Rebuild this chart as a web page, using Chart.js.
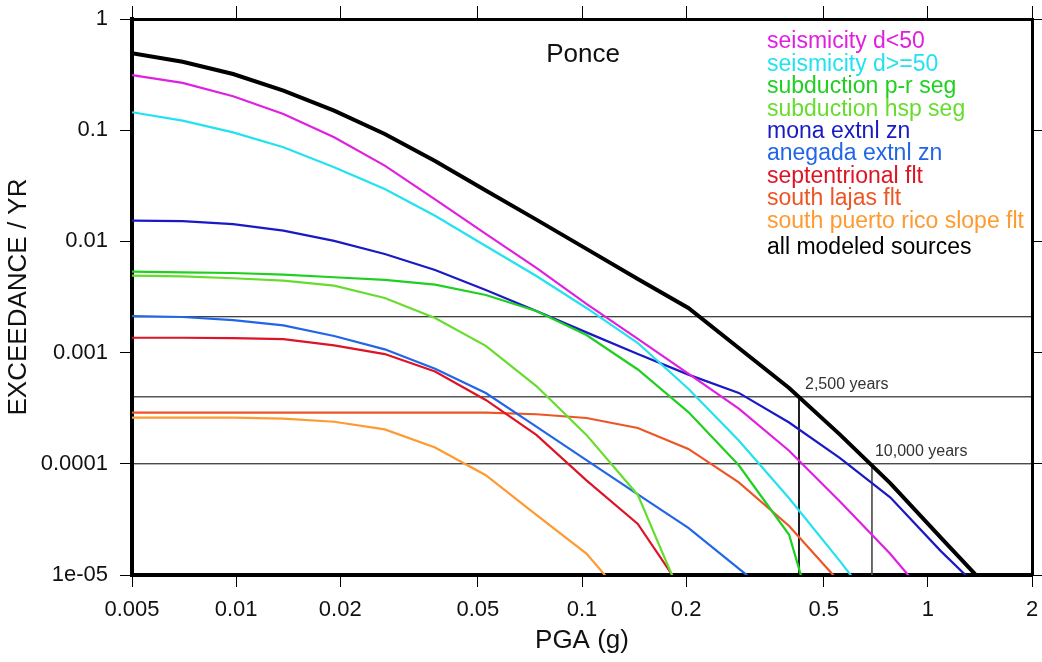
<!DOCTYPE html>
<html>
<head>
<meta charset="utf-8">
<script src="https://cdn.jsdelivr.net/npm/chart.js@4.4.1/dist/chart.umd.min.js"></script>
<style>
  html, body { margin: 0; padding: 0; background: #fff; }
  #wrap { width: 1042px; height: 662px; }
</style>
</head>
<body>
<div id="wrap"><canvas id="hazard"></canvas></div>
<script>
// PGA levels (g) the hazard curves are sampled at
const pgaLevels = [0.005, 0.007, 0.0098, 0.0137, 0.0192, 0.0269, 0.0376, 0.0527, 0.0738,
                   0.103, 0.145, 0.203, 0.284, 0.397, 0.556, 0.778, 1.09, 1.52];

// annual exceedance rate per source
const seisShallow = [0.313, 0.266, 0.202, 0.140, 0.0863, 0.048, 0.0239, 0.0117, 0.00577,
                     0.00274, 0.00133, 0.000647, 0.000313, 0.000131, 4.6e-5, 1.55e-5, 4.5e-6];
const seisDeep = [0.145, 0.122, 0.0957, 0.0702, 0.0464, 0.0296, 0.017, 0.0091, 0.00489,
                  0.00252, 0.00122, 0.000473, 0.000162, 4.9e-5, 1.34e-5, 3.5e-6];
const subductionPR = [0.00534, 0.00527, 0.0052, 0.00502, 0.00476, 0.0045, 0.00409, 0.0033, 0.00237,
                      0.00144, 0.000705, 0.000292, 9.7e-5, 2.3e-5, 6.3e-7];
const subductionHSP = [0.00492, 0.00485, 0.00466, 0.00443, 0.004, 0.0031, 0.00205, 0.00115, 0.0005,
                       0.000182, 5.25e-5, 4.5e-6];
const monaZone = [0.0154, 0.0152, 0.0143, 0.0125, 0.0101, 0.0077, 0.00553, 0.00366, 0.00237,
                  0.00152, 0.00097, 0.000634, 0.000434, 0.000235, 0.000113, 5.0e-5, 1.64e-5, 6e-6];
const anegadaZone = [0.00213, 0.00209, 0.00196, 0.00176, 0.00141, 0.00107, 0.000716, 0.000433, 0.000216,
                     0.000108, 5.3e-5, 2.65e-5, 1.14e-5, 5e-6];
const septentrional = [0.00136, 0.00136, 0.00135, 0.00132, 0.00116, 0.00097, 0.000676, 0.000375, 0.000182,
                       7.1e-5, 2.88e-5, 6.1e-6];
const southLajas = [0.000289, 0.000289, 0.000289, 0.000289, 0.000289, 0.000288, 0.000288, 0.000288, 0.000279,
                    0.000258, 0.00021, 0.000136, 6.8e-5, 2.76e-5, 8.6e-6];
const southPRSlope = [0.00026, 0.00026, 0.00026, 0.000255, 0.000239, 0.000204, 0.00014, 7.9e-5, 3.47e-5,
                      1.56e-5, 4.5e-6];
const allSources = [0.492, 0.413, 0.32, 0.227, 0.150, 0.0925, 0.0528, 0.0287, 0.0157,
                    0.00857, 0.00459, 0.00252, 0.0011, 0.00048, 0.000184, 6.7e-5, 2.17e-5, 7.2e-6];

// reference rates: 475, 2,500 and 10,000 year return periods
const refRates = [0.0021, 0.0004, 0.0001];
const refLabels = ["2,500 years", "10,000 years"];
const refRatesLabelled = [0.0004, 0.0001];
const refPGA = [0.424, 0.689];

// axis ticks
const xTicks = [0.005, 0.01, 0.02, 0.05, 0.1, 0.2, 0.5, 1, 2];
const xTickLabels = ["0.005", "0.01", "0.02", "0.05", "0.1", "0.2", "0.5", "1", "2"];
const yTicks = [1, 0.1, 0.01, 0.001, 0.0001, 0.00001];
const yTickLabels = ["1", "0.1", "0.01", "0.001", "0.0001", "1e-05"];

const fontFamily = '"Liberation Sans", Arial, Helvetica, sans-serif';

const styles = {
    seisShallow: "#e020e0",
    seisDeep: "#22e2f0",
    subductionPR: "#20d020",
    subductionHSP: "#66dd2e",
    monaZone: "#1a1ac4",
    anegadaZone: "#2266e8",
    septentrional: "#dd1426",
    southLajas: "#ee5524",
    southPRSlope: "#ff9a30",
    allSources: "#000000",
};

function curve(label, values, color, width) {
    return {
        label: label,
        data: values.map((v, i) => ({ x: pgaLevels[i], y: v })),
        borderColor: color,
        backgroundColor: color,
        borderWidth: width,
        pointRadius: 0,
        tension: 0,
        fill: false,
    };
}

function refLine(points, color) {
    return {
        label: "",
        data: points,
        borderColor: color,
        borderWidth: 1,
        pointRadius: 0,
        fill: false,
    };
}

const sourceCurves = [
    curve("all modeled sources", allSources, styles.allSources, 4),
    curve("seismicity d<50", seisShallow, styles.seisShallow, 2.2),
    curve("seismicity d>=50", seisDeep, styles.seisDeep, 2.2),
    curve("subduction p-r seg", subductionPR, styles.subductionPR, 2.2),
    curve("subduction hsp seg", subductionHSP, styles.subductionHSP, 2.2),
    curve("mona extnl zn", monaZone, styles.monaZone, 2.2),
    curve("anegada extnl zn", anegadaZone, styles.anegadaZone, 2.2),
    curve("septentrional flt", septentrional, styles.septentrional, 2.2),
    curve("south lajas flt", southLajas, styles.southLajas, 2.2),
    curve("south puerto rico slope flt", southPRSlope, styles.southPRSlope, 2.2),
];

const refLines = [
    ...refRates.map(r => refLine([{ x: xTicks[0], y: r }, { x: xTicks[xTicks.length - 1], y: r }], "#000")),
    refLine([{ x: refPGA[0], y: refRatesLabelled[0] }, { x: refPGA[0], y: yTicks[yTicks.length - 1] }], "#000"),
    refLine([{ x: refPGA[1], y: refRatesLabelled[1] }, { x: refPGA[1], y: yTicks[yTicks.length - 1] }], "#555"),
];

// legend order as listed on the plot
const legendOrder = [1, 2, 3, 4, 5, 6, 7, 8, 9, 0];

const textPlugin = {
    id: "plotText",
    afterDraw(chart) {
        const { ctx, chartArea } = chart;
        const xs = chart.scales.x, ys = chart.scales.y;
        ctx.save();
        ctx.textBaseline = "alphabetic";

        // station name
        ctx.font = "26px " + fontFamily;
        ctx.fillStyle = "#111";
        ctx.textAlign = "center";
        ctx.fillText("Ponce", chartArea.left + 451, chartArea.top + 43);

        // legend
        ctx.textAlign = "left";
        ctx.font = "23px " + fontFamily;
        legendOrder.forEach((idx, i) => {
            const ds = chart.data.datasets[idx];
            const y = chartArea.top + 29.3 + i * 22.4 + (i === legendOrder.length - 1 ? 4.4 : 0);
            ctx.fillStyle = ds.borderColor;
            ctx.fillText(ds.label, chartArea.left + 635, y);
        });

        // return period labels
        ctx.font = "16px " + fontFamily;
        ctx.fillStyle = "#333";
        refLabels.forEach((txt, i) => {
            const px = xs.getPixelForValue(refPGA[i]);
            const py = ys.getPixelForValue(refRatesLabelled[i]);
            ctx.fillText(txt, px + (i === 0 ? 6 : 3), py - 8);
        });
        ctx.restore();
    }
};

const tickMarks = {
    display: true,
    drawOnChartArea: false,
    drawTicks: true,
    tickLength: 12,
    tickColor: "#000",
    tickWidth: 1,
};

function setTicks(values) {
    return scale => { scale.ticks = values.map(v => ({ value: v })); };
}

// fixed box size, and no extra room for overhanging labels
function fixSize(key, size) {
    return scale => {
        scale[key] = size;
        scale.paddingTop = scale.paddingBottom = scale.paddingLeft = scale.paddingRight = 0;
    };
}

new Chart(document.getElementById("hazard"), {
    type: "line",
    data: { datasets: [...sourceCurves, ...refLines] },
    options: {
        responsive: true,
        maintainAspectRatio: false,
        animation: false,
        layout: { padding: 0 },
        plugins: {
            legend: { display: false },
            tooltip: { enabled: false },
        },
        scales: {
            x: {
                type: "logarithmic",
                position: "bottom",
                min: 0.005,
                max: 2,
                afterBuildTicks: setTicks(xTicks),
                afterFit: fixSize("height", 87),
                ticks: {
                    autoSkip: false,
                    maxRotation: 0,
                    padding: 10,
                    color: "#111",
                    font: { family: fontFamily, size: 22 },
                    callback: (v, i) => xTickLabels[i],
                },
                grid: { ...tickMarks },
                border: { display: true, color: "#000", width: 4 },
                title: {
                    display: true,
                    text: "PGA (g)",
                    color: "#111",
                    font: { family: fontFamily, size: 26 },
                    padding: { top: 0, bottom: 6 },
                },
            },
            x2: {
                type: "logarithmic",
                position: "top",
                min: 0.005,
                max: 2,
                afterBuildTicks: setTicks(xTicks),
                afterFit: fixSize("height", 19),
                ticks: { display: false },
                grid: { ...tickMarks, tickLength: 13 },
                border: { display: true, color: "#000", width: 3 },
            },
            y: {
                type: "logarithmic",
                position: "left",
                min: 0.00001,
                max: 1,
                afterBuildTicks: setTicks(yTicks),
                afterFit: fixSize("width", 132),
                ticks: {
                    padding: 12,
                    color: "#111",
                    font: { family: fontFamily, size: 22 },
                    callback: (v, i) => yTickLabels[i],
                },
                grid: { ...tickMarks },
                border: { display: true, color: "#000", width: 4 },
                title: {
                    display: true,
                    text: "EXCEEDANCE / YR",
                    color: "#111",
                    font: { family: fontFamily, size: 26 },
                    padding: { top: 3, bottom: 0 },
                },
            },
            y2: {
                type: "logarithmic",
                position: "right",
                min: 0.00001,
                max: 1,
                afterBuildTicks: setTicks(yTicks),
                afterFit: fixSize("width", 10),
                ticks: { display: false },
                grid: { ...tickMarks, tickLength: 10 },
                border: { display: true, color: "#000", width: 3 },
            },
        },
    },
    plugins: [textPlugin],
});
</script>
</body>
</html>
